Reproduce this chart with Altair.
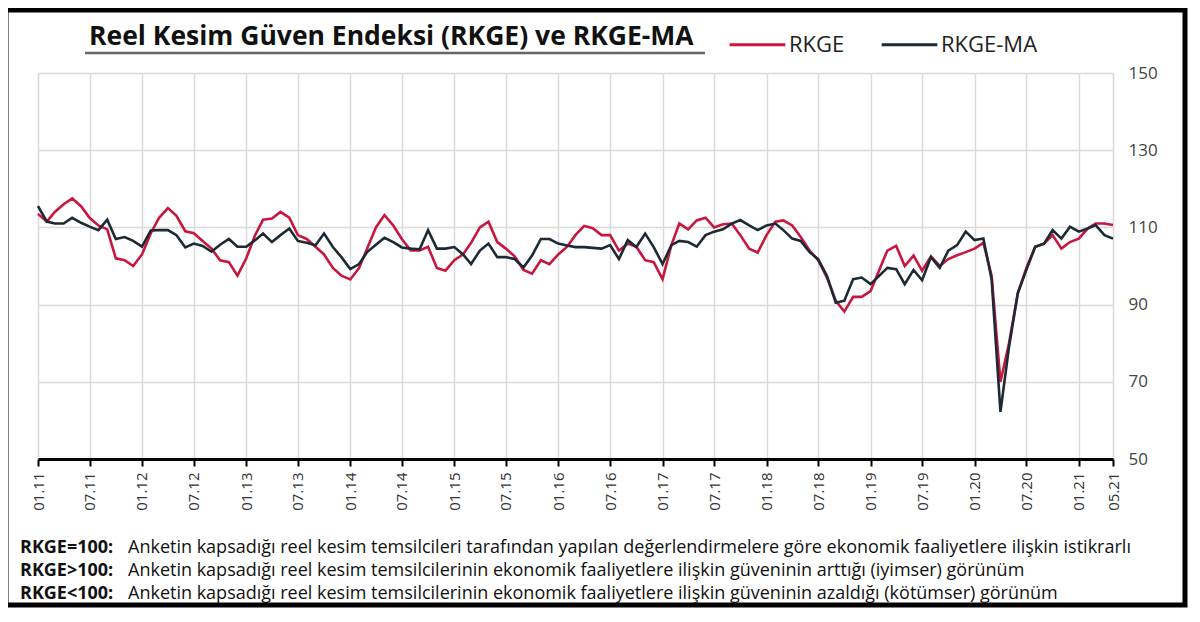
import pandas as pd
import altair as alt

# monthly readings, 01.2011 - 05.2021
months = pd.date_range("2011-01-01", periods=125, freq="MS")

rkge = [
    113.5, 111.5, 114.0, 116.0, 117.5, 115.5, 112.5, 110.5, 109.5, 102.0,
    101.5, 100.0, 103.0, 108.5, 112.5, 115.0, 113.0, 109.0, 108.5, 106.5,
    104.5, 101.5, 101.0, 97.5, 102.0, 108.0, 112.0, 112.3, 114.0, 112.5,
    108.0, 107.0, 105.0, 103.0, 99.5, 97.5, 96.5, 99.5, 104.5, 110.0,
    113.2, 110.5, 107.0, 104.0, 104.0, 105.0, 99.5, 98.8, 101.5, 103.0,
    106.0, 110.0, 111.5, 106.2, 104.5, 102.5, 99.0, 98.0, 101.5, 100.5,
    103.0, 105.0, 108.0, 110.4, 109.8, 108.0, 108.0, 104.0, 105.8, 105.0,
    101.5, 101.0, 96.6, 105.4, 111.0, 109.5, 111.8, 112.5, 110.0, 110.8,
    111.0, 108.0, 104.5, 103.5, 108.0, 111.5, 111.8, 110.5, 107.5, 104.0,
    101.5, 97.0, 91.0, 88.2, 92.0, 92.0, 93.5, 99.0, 104.0, 105.2,
    100.0, 102.7, 98.8, 102.5, 100.0, 101.8, 102.8, 103.6, 104.5, 106.0,
    97.5, 70.0, 80.0, 93.0, 99.5, 105.0, 105.8, 108.0, 104.5, 106.2,
    107.1, 109.7, 111.0, 111.0, 110.6,
]

rkge_ma = [
    115.5, 111.5, 111.0, 111.0, 112.5, 111.2, 110.2, 109.3, 112.0, 107.0,
    107.5, 106.5, 105.0, 109.2, 109.3, 109.3, 108.0, 104.8, 105.8, 105.2,
    103.7, 105.5, 107.0, 105.0, 105.0, 106.7, 108.4, 106.2, 108.0, 109.7,
    106.5, 106.0, 105.4, 108.4, 104.9, 102.3, 99.2, 100.5, 103.6, 105.5,
    107.3, 106.2, 104.8, 104.5, 104.3, 109.3, 104.5, 104.5, 104.9, 103.0,
    100.5, 104.0, 105.8, 102.3, 102.3, 101.8, 99.6, 102.7, 107.0, 107.0,
    105.8, 105.3, 104.9, 104.9, 104.7, 104.5, 105.4, 101.8, 106.7, 104.9,
    108.4, 104.9, 100.5, 105.4, 106.5, 106.2, 105.0, 108.0, 108.9, 109.5,
    111.0, 111.9, 110.5, 109.3, 110.5, 111.0, 109.3, 107.1, 106.5, 103.6,
    101.8, 97.5, 90.5, 91.0, 96.6, 97.0, 95.3, 97.5, 99.5, 99.2,
    95.3, 99.0, 96.3, 102.3, 99.5, 104.0, 105.4, 108.9, 106.7, 107.1,
    96.5, 62.2, 79.0, 93.0, 99.0, 105.0, 105.8, 109.3, 107.1, 110.2,
    108.9, 109.7, 110.6, 108.0, 107.1,
]

series_names = ["RKGE", "RKGE-MA"]
series_colors = ["#c8173f", "#1d2a35"]
y_ticks = [50, 70, 90, 110, 130, 150]
tick_months = [(y, m) for y in range(2011, 2021) for m in (1, 7)] + [(2021, 1), (2021, 5)]

title_text = "Reel Kesim Güven Endeksi (RKGE) ve RKGE-MA"
note_heads = ["RKGE=100:", "RKGE>100:", "RKGE<100:"]
note_bodies = [
    "Anketin kapsadığı reel kesim temsilcileri tarafından yapılan değerlendirmelere göre ekonomik faaliyetlere ilişkin istikrarlı",
    "Anketin kapsadığı reel kesim temsilcilerinin ekonomik faaliyetlere ilişkin güveninin arttığı (iyimser) görünüm",
    "Anketin kapsadığı reel kesim temsilcilerinin ekonomik faaliyetlere ilişkin güveninin azaldığı (kötümser) görünüm",
]

FONT = "Open Sans"

df = pd.DataFrame({"date": months, "RKGE": rkge, "RKGE-MA": rkge_ma})
df = df.melt(id_vars="date", var_name="series", value_name="value")

tick_values = [alt.DateTime(year=y, month=m, date=1) for y, m in tick_months]

lines = alt.Chart(df).mark_line(strokeWidth=2.6).encode(
    x=alt.X(
        "date:T",
        scale=alt.Scale(
            domain=[alt.DateTime(year=2011, month=1, date=1), alt.DateTime(year=2021, month=5, date=1)],
            nice=False,
        ),
        axis=alt.Axis(
            values=tick_values, format="%m.%y", labelAngle=-90, title=None,
            labelFont=FONT, labelFontSize=15, labelColor="#333", labelPadding=6,
            labelOverlap=False, labelFlush=False,
            tickColor="black", tickSize=7, tickWidth=2,
            domainColor="black", domainWidth=3,
            gridColor="#dadada", gridWidth=1.5,
        ),
    ),
    y=alt.Y(
        "value:Q",
        scale=alt.Scale(domain=[50, 150], nice=False, zero=False),
        axis=alt.Axis(
            orient="right", values=y_ticks, title=None, domain=False, ticks=False,
            labelFont=FONT, labelFontSize=17, labelColor="#444", labelPadding=15,
            gridColor="#dadada", gridWidth=1.5,
        ),
    ),
    color=alt.Color(
        "series:N",
        scale=alt.Scale(domain=series_names, range=series_colors),
        legend=alt.Legend(
            title=None, orient="none", legendX=690, legendY=-58, direction="horizontal",
            symbolType="stroke", symbolSize=3100, symbolStrokeWidth=3,
            labelFont=FONT, labelFontSize=22, labelColor="#222", labelOffset=2,
            columnPadding=30, padding=0,
        ),
    ),
    order=alt.Order("series:N"),
)

one = pd.DataFrame({"k": [0]})

frame = alt.Chart(one).mark_rect(filled=False, stroke="black", strokeWidth=5).encode(
    x=alt.value(-32), x2=alt.value(1147), y=alt.value(-63), y2=alt.value(532)
)

title = alt.Chart(one).mark_text(
    align="left", baseline="middle", font=FONT, fontSize=26.5, fontWeight="bold", color="#111"
).encode(x=alt.value(51), y=alt.value(-36), text=alt.value(title_text))

underline = alt.Chart(one).mark_rule(color="#666", strokeWidth=2.5).encode(
    x=alt.value(47), x2=alt.value(667), y=alt.value(-20)
)

notes = []
for i, (head, body) in enumerate(zip(note_heads, note_bodies)):
    ypos = 475 + 23 * i
    notes.append(
        alt.Chart(one).mark_text(
            align="left", baseline="middle", font=FONT, fontSize=18, fontWeight="bold", color="#111"
        ).encode(x=alt.value(-18), y=alt.value(ypos), text=alt.value(head))
    )
    notes.append(
        alt.Chart(one).mark_text(
            align="left", baseline="middle", font=FONT, fontSize=18, color="#111"
        ).encode(x=alt.value(90), y=alt.value(ypos), text=alt.value(body))
    )

chart = alt.layer(lines, frame, title, underline, *notes).properties(
    width=1075,
    height=386,
    autosize="none",
    padding={"left": 30, "top": 65, "right": 79, "bottom": 149},
).configure_view(stroke=None)

chart.save("out.html", embed_options={"renderer": "svg", "actions": False})
